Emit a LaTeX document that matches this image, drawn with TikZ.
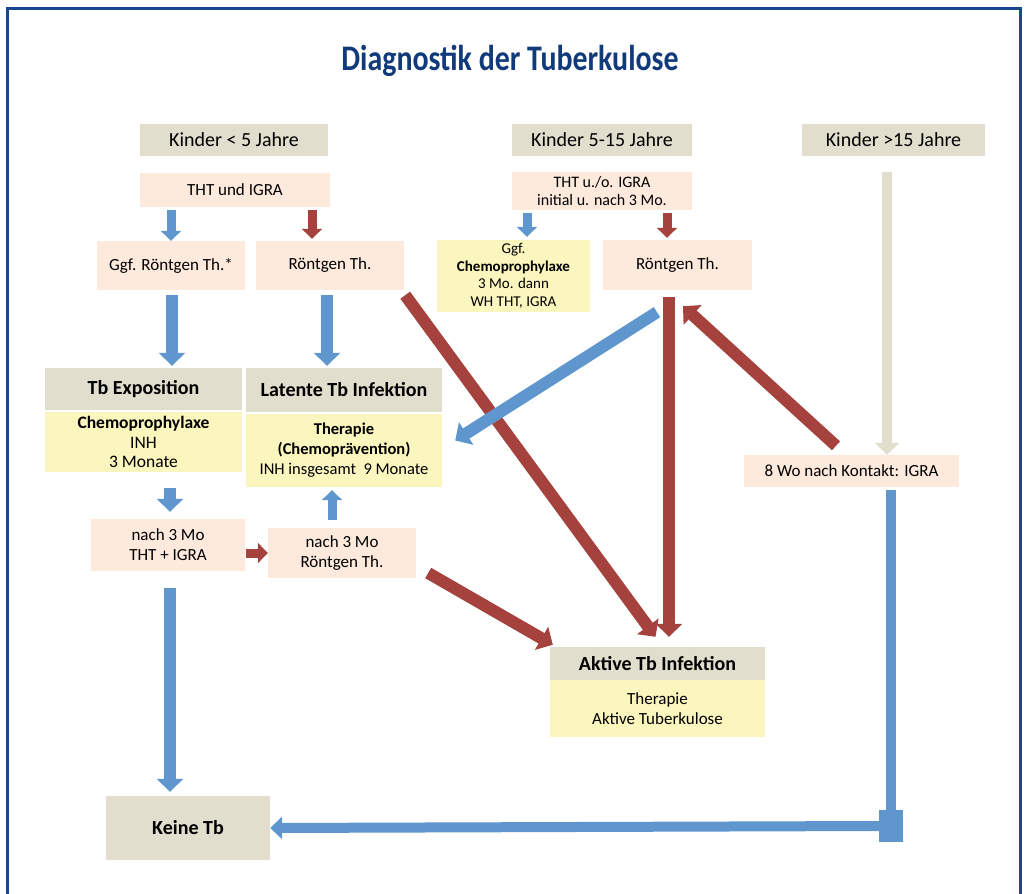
\documentclass[tikz,border=0pt]{standalone}
\usepackage{fontspec}
\usepackage{graphicx}
\setmainfont{Carlito}
\usetikzlibrary{arrows.meta,calc}
\definecolor{bluec}{RGB}{94,150,205}
\definecolor{redc}{RGB}{165,66,62}
\definecolor{hdrc}{RGB}{226,222,205}
\definecolor{pinkc}{RGB}{253,234,221}
\definecolor{yelc}{RGB}{251,245,190}
\definecolor{framec}{RGB}{22,72,145}
\definecolor{titlec}{RGB}{16,58,122}
\newcommand\myfs[2]{\fontsize{#1}{#2}\selectfont}
\begin{document}
\begin{tikzpicture}[x=1pt,y=1pt,
 bx/.style={inner sep=0pt, align=center, font=\myfs{17}{20}},
 hdr/.style={bx, fill=hdrc},
 hdrb/.style={bx, fill=hdrc, font=\myfs{20}{24}\bfseries},
 pk/.style={bx, fill=pinkc},
 yl/.style={bx, fill=yelc},
 blu/.style={draw=bluec, line width=12pt, -{Triangle[length=13pt,width=26pt]}},
 blus/.style={draw=bluec, line width=9pt, -{Triangle[length=10pt,width=20pt]}},
 rd/.style={draw=redc, line width=12pt, -{Triangle[length=13pt,width=26pt]}},
 rds/.style={draw=redc, line width=9pt, -{Triangle[length=10pt,width=20pt]}},
 bg/.style={draw=hdrc, line width=10pt, -{Triangle[length=12pt,width=24pt]}},
 bline/.style={draw=bluec, line width=10pt},
 barr/.style={draw=bluec, line width=10pt, -{Triangle[length=12pt,width=22pt]}},
]
\useasboundingbox (0,0) rectangle (1026,-894);
\draw[framec, line width=3pt] (7,-900) -- (7,-8) -- (1020,-8) -- (1020,-900);
\node[text=titlec, font=\myfs{36}{40}\bfseries] (title) at (510,-61) {\scalebox{0.83}[1]{Diagnostik der Tuberkulose}};

\node[hdr, minimum width=188pt, minimum height=32pt, font=\myfs{20}{22}] (k1) at (234,-140) {Kinder < 5 Jahre};
\node[hdr, minimum width=180pt, minimum height=32pt, font=\myfs{20}{22}] (k2) at (602,-140) {Kinder 5-15 Jahre};
\node[hdr, minimum width=183pt, minimum height=32pt, font=\myfs{20}{22}] (k3) at (893.5,-140) {Kinder >15 Jahre};

\node[pk, minimum width=190pt, minimum height=34pt] (tht1) at (235,-190) {THT und IGRA};
\node[pk, minimum width=180pt, minimum height=38pt, font=\myfs{16}{18}] (tht2) at (602,-191) {THT u./o. IGRA\\initial u. nach 3 Mo.};
\node[pk, minimum width=148pt, minimum height=49pt] (rg1) at (171,-265.5) {Ggf. Röntgen Th.*};
\node[pk, minimum width=148pt, minimum height=49pt] (rg2) at (330,-265.5) {Röntgen Th.};
\node[yl, minimum width=153pt, minimum height=72pt, font=\myfs{15}{17.5}] (chemo) at (513.5,-276) {Ggf.\\\textbf{Chemoprophylaxe}\\3 Mo. dann\\WH THT, IGRA};
\node[pk, minimum width=149pt, minimum height=50pt] (rg3) at (677.5,-265) {Röntgen Th.};

\node[hdrb, minimum width=197pt, minimum height=42pt] (expo) at (143.5,-389) {Tb Exposition};
\node[yl, minimum width=197pt, minimum height=60pt, font=\myfs{17.5}{19.5}] (expob) at (143.5,-442) {\textbf{Chemoprophylaxe}\\INH\\3 Monate};
\node[hdrb, minimum width=196pt, minimum height=44pt] (lat) at (344,-390) {Latente Tb Infektion};
\node[yl, minimum width=196pt, minimum height=73pt, font=\myfs{16.5}{20}] (latb) at (344,-450.5) {\textbf{Therapie}\\\textbf{(Chemoprävention)}\\INH insgesamt\ \ 9 Monate};

\node[pk, minimum width=154pt, minimum height=52pt] (n3a) at (168,-545) {nach 3 Mo\\THT + IGRA};
\node[pk, minimum width=148pt, minimum height=50pt] (n3b) at (342,-553) {nach 3 Mo\\Röntgen Th.};
\node[pk, minimum width=215pt, minimum height=32pt] (wo8) at (851.5,-471) {8 Wo nach Kontakt: IGRA};

\node[hdrb, minimum width=215pt, minimum height=33pt] (akt) at (657.5,-663.5) {Aktive Tb Infektion};
\node[yl, minimum width=215pt, minimum height=57pt] (aktb) at (657.5,-708.5) {Therapie\\Aktive Tuberkulose};
\node[hdrb, minimum width=164pt, minimum height=64pt] (keine) at (188,-828) {Keine Tb};
\node[fill=bluec, inner sep=0pt, minimum width=24pt, minimum height=32pt] (corner) at (891,-826) {};

% small arrows at top
\draw[blus] ([yshift=-3pt]tht1.south -| rg1.north) -- (rg1.north);
\draw[rds] ($(tht1.south)+(77,-3)$) -- ($(rg2.north)+(-18,2)$);
\draw[blus] ($(tht2.south)+(-75,-3)$) -- ($(chemo.north)+(13.5,3)$);
\draw[rds] ($(tht2.south)+(65,-3)$) -- ($(rg3.north)+(-10.5,2)$);

% big arrows
\draw[blu] ($(rg1.south)+(1,-5)$) -- ($(expo.north)+(28.5,2)$);
\draw[blu] ($(rg2.south)+(-3,-5)$) -- ($(lat.north)+(-17,2)$);
\draw[blu] ($(expob.south)+(26.5,-16)$) -- ($(n3a.north)+(2,7)$);
\draw[rds] ($(n3a.east)+(1,-8)$) -- (n3b.west);
\draw[blus] ($(n3b.north)+(-10,8)$) -- ($(latb.south)+(-12,-3)$);
\draw[rd] ($(n3b.east)+(12,-20)$) -- ($(akt.north west)+(3,2)$);
\draw[rd] ($(rg2.south east)+(1,-5)$) -- ($(akt.north)+(-2,10)$);
\draw[rd] ($(rg3.south)+(-8.5,-7)$) -- ($(akt.north)+(11.5,10)$);
\draw[blu] ($(rg3.south)+(-20.5,-22)$) -- ($(latb.east)+(13,10)$);
\draw[rd] ($(wo8.north)+(-15.5,9)$) -- ($(rg3.south)+(5.5,-16)$);
\draw[bg] ($(k3.south)+(-6.5,-16)$) -- ($(wo8.north)+(35.5,0)$);
\draw[bline] ([yshift=-3pt]wo8.south -| corner.north) -- (corner.north);
\draw[barr] (corner.west) -- (keine.east);
\draw[blu] ($(n3a.south)+(2,-17)$) -- ($(keine.north)+(-18,4)$);
\end{tikzpicture}
\end{document}
